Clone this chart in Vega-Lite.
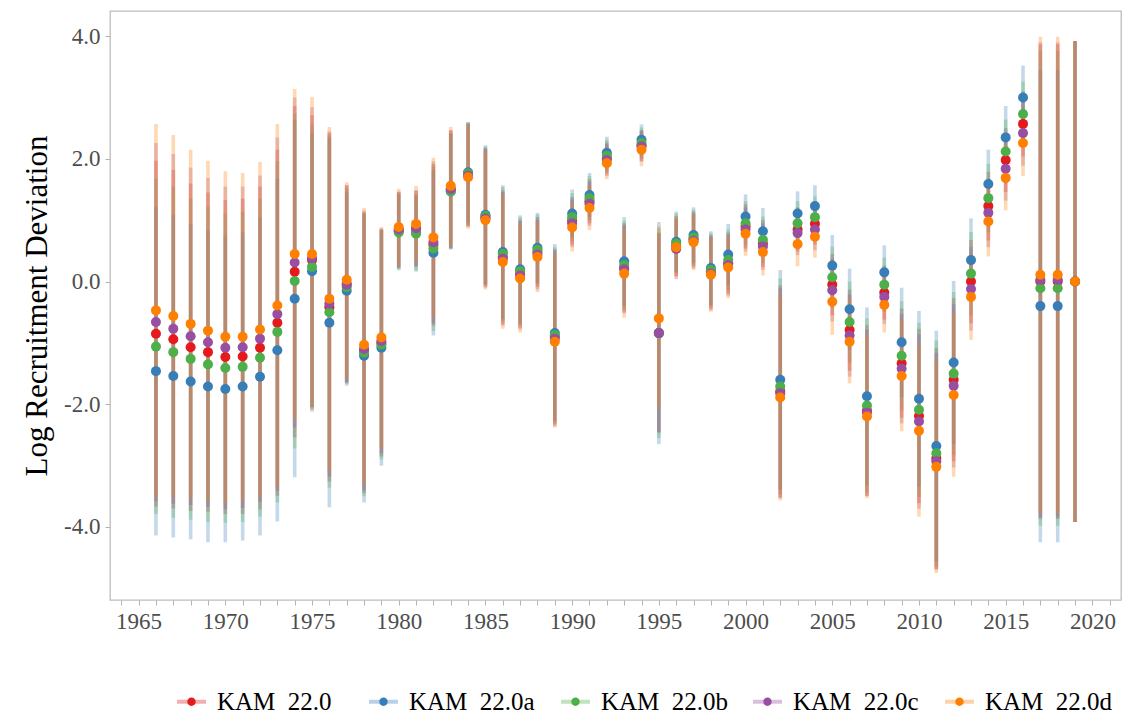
{
"$schema": "https://vega.github.io/schema/vega-lite/v6.json",
"width": 1011, "height": 589,
"autosize": {"type": "none"},
"padding": {"left": 110, "top": 11, "right": 1, "bottom": 115},
"background": "white",
"config": {"view": {"stroke": "#BDBDBD", "strokeWidth": 1.3}, "font": "Liberation Serif"},
"data": {"values": [
{"year":1966,"model":"22.0","est":-0.85,"lo":-3.67,"hi":1.97},{"year":1966,"model":"22.0a","est":-1.46,"lo":-4.14,"hi":1.22},{"year":1966,"model":"22.0b","est":-1.06,"lo":-3.79,"hi":1.67},{"year":1966,"model":"22.0c","est":-0.66,"lo":-3.58,"hi":2.26},{"year":1966,"model":"22.0d","est":-0.47,"lo":-3.51,"hi":2.57},
{"year":1967,"model":"22.0","est":-0.94,"lo":-3.70,"hi":1.82},{"year":1967,"model":"22.0a","est":-1.54,"lo":-4.17,"hi":1.09},{"year":1967,"model":"22.0b","est":-1.15,"lo":-3.85,"hi":1.55},{"year":1967,"model":"22.0c","est":-0.77,"lo":-3.62,"hi":2.08},{"year":1967,"model":"22.0d","est":-0.56,"lo":-3.51,"hi":2.39},
{"year":1968,"model":"22.0","est":-1.07,"lo":-3.74,"hi":1.60},{"year":1968,"model":"22.0a","est":-1.63,"lo":-4.20,"hi":0.94},{"year":1968,"model":"22.0b","est":-1.26,"lo":-3.88,"hi":1.36},{"year":1968,"model":"22.0c","est":-0.89,"lo":-3.64,"hi":1.86},{"year":1968,"model":"22.0d","est":-0.69,"lo":-3.53,"hi":2.15},
{"year":1969,"model":"22.0","est":-1.15,"lo":-3.75,"hi":1.45},{"year":1969,"model":"22.0a","est":-1.71,"lo":-4.25,"hi":0.83},{"year":1969,"model":"22.0b","est":-1.35,"lo":-3.92,"hi":1.22},{"year":1969,"model":"22.0c","est":-0.99,"lo":-3.67,"hi":1.69},{"year":1969,"model":"22.0d","est":-0.80,"lo":-3.57,"hi":1.97},
{"year":1970,"model":"22.0","est":-1.23,"lo":-3.79,"hi":1.33},{"year":1970,"model":"22.0a","est":-1.75,"lo":-4.25,"hi":0.75},{"year":1970,"model":"22.0b","est":-1.41,"lo":-3.93,"hi":1.11},{"year":1970,"model":"22.0c","est":-1.08,"lo":-3.71,"hi":1.55},{"year":1970,"model":"22.0d","est":-0.90,"lo":-3.60,"hi":1.80},
{"year":1971,"model":"22.0","est":-1.22,"lo":-3.79,"hi":1.35},{"year":1971,"model":"22.0a","est":-1.71,"lo":-4.22,"hi":0.80},{"year":1971,"model":"22.0b","est":-1.39,"lo":-3.92,"hi":1.14},{"year":1971,"model":"22.0c","est":-1.07,"lo":-3.69,"hi":1.55},{"year":1971,"model":"22.0d","est":-0.90,"lo":-3.57,"hi":1.77},
{"year":1972,"model":"22.0","est":-1.08,"lo":-3.71,"hi":1.55},{"year":1972,"model":"22.0a","est":-1.55,"lo":-4.14,"hi":1.04},{"year":1972,"model":"22.0b","est":-1.24,"lo":-3.83,"hi":1.35},{"year":1972,"model":"22.0c","est":-0.93,"lo":-3.59,"hi":1.73},{"year":1972,"model":"22.0d","est":-0.78,"lo":-3.51,"hi":1.95},
{"year":1973,"model":"22.0","est":-0.67,"lo":-3.49,"hi":2.15},{"year":1973,"model":"22.0a","est":-1.12,"lo":-3.91,"hi":1.67},{"year":1973,"model":"22.0b","est":-0.82,"lo":-3.60,"hi":1.96},{"year":1973,"model":"22.0c","est":-0.53,"lo":-3.41,"hi":2.35},{"year":1973,"model":"22.0d","est":-0.39,"lo":-3.35,"hi":2.57},
{"year":1974,"model":"22.0","est":0.16,"lo":-2.54,"hi":2.86},{"year":1974,"model":"22.0a","est":-0.28,"lo":-3.19,"hi":2.63},{"year":1974,"model":"22.0b","est":0.01,"lo":-2.72,"hi":2.74},{"year":1974,"model":"22.0c","est":0.31,"lo":-2.38,"hi":3.00},{"year":1974,"model":"22.0d","est":0.45,"lo":-2.24,"hi":3.14},
{"year":1975,"model":"22.0","est":0.35,"lo":-2.05,"hi":2.71},{"year":1975,"model":"22.0a","est":0.17,"lo":-2.12,"hi":2.42},{"year":1975,"model":"22.0b","est":0.24,"lo":-2.08,"hi":2.56},{"year":1975,"model":"22.0c","est":0.38,"lo":-2.05,"hi":2.84},{"year":1975,"model":"22.0d","est":0.45,"lo":-2.09,"hi":3.01},
{"year":1976,"model":"22.0","est":-0.42,"lo":-3.26,"hi":2.42},{"year":1976,"model":"22.0a","est":-0.67,"lo":-3.68,"hi":2.34},{"year":1976,"model":"22.0b","est":-0.50,"lo":-3.36,"hi":2.38},{"year":1976,"model":"22.0c","est":-0.36,"lo":-3.18,"hi":2.45},{"year":1976,"model":"22.0d","est":-0.28,"lo":-3.08,"hi":2.52},
{"year":1977,"model":"22.0","est":-0.04,"lo":-1.64,"hi":1.57},{"year":1977,"model":"22.0a","est":-0.15,"lo":-1.70,"hi":1.45},{"year":1977,"model":"22.0b","est":-0.09,"lo":-1.67,"hi":1.52},{"year":1977,"model":"22.0c","est":-0.05,"lo":-1.65,"hi":1.57},{"year":1977,"model":"22.0d","est":0.03,"lo":-1.58,"hi":1.62},
{"year":1978,"model":"22.0","est":-1.13,"lo":-3.45,"hi":1.13},{"year":1978,"model":"22.0a","est":-1.21,"lo":-3.60,"hi":1.10},{"year":1978,"model":"22.0b","est":-1.16,"lo":-3.50,"hi":1.12},{"year":1978,"model":"22.0c","est":-1.10,"lo":-3.40,"hi":1.16},{"year":1978,"model":"22.0d","est":-1.03,"lo":-3.28,"hi":1.20},
{"year":1979,"model":"22.0","est":-1.00,"lo":-2.85,"hi":0.85},{"year":1979,"model":"22.0a","est":-1.08,"lo":-3.00,"hi":0.84},{"year":1979,"model":"22.0b","est":-1.03,"lo":-2.90,"hi":0.85},{"year":1979,"model":"22.0c","est":-0.97,"lo":-2.80,"hi":0.87},{"year":1979,"model":"22.0d","est":-0.91,"lo":-2.71,"hi":0.89},
{"year":1980,"model":"22.0","est":0.84,"lo":0.22,"hi":1.46},{"year":1980,"model":"22.0a","est":0.82,"lo":0.20,"hi":1.44},{"year":1980,"model":"22.0b","est":0.80,"lo":0.18,"hi":1.42},{"year":1980,"model":"22.0c","est":0.85,"lo":0.23,"hi":1.47},{"year":1980,"model":"22.0d","est":0.89,"lo":0.27,"hi":1.51},
{"year":1981,"model":"22.0","est":0.86,"lo":0.24,"hi":1.48},{"year":1981,"model":"22.0a","est":0.80,"lo":0.18,"hi":1.42},{"year":1981,"model":"22.0b","est":0.78,"lo":0.16,"hi":1.40},{"year":1981,"model":"22.0c","est":0.87,"lo":0.25,"hi":1.49},{"year":1981,"model":"22.0d","est":0.94,"lo":0.32,"hi":1.56},
{"year":1982,"model":"22.0","est":0.60,"lo":-0.72,"hi":1.92},{"year":1982,"model":"22.0a","est":0.47,"lo":-0.88,"hi":1.82},{"year":1982,"model":"22.0b","est":0.54,"lo":-0.80,"hi":1.88},{"year":1982,"model":"22.0c","est":0.64,"lo":-0.68,"hi":1.96},{"year":1982,"model":"22.0d","est":0.72,"lo":-0.58,"hi":2.02},
{"year":1983,"model":"22.0","est":1.50,"lo":0.54,"hi":2.46},{"year":1983,"model":"22.0a","est":1.47,"lo":0.53,"hi":2.41},{"year":1983,"model":"22.0b","est":1.47,"lo":0.52,"hi":2.42},{"year":1983,"model":"22.0c","est":1.51,"lo":0.55,"hi":2.47},{"year":1983,"model":"22.0d","est":1.56,"lo":0.60,"hi":2.52},
{"year":1984,"model":"22.0","est":1.74,"lo":0.90,"hi":2.58},{"year":1984,"model":"22.0a","est":1.78,"lo":0.95,"hi":2.60},{"year":1984,"model":"22.0b","est":1.76,"lo":0.92,"hi":2.60},{"year":1984,"model":"22.0c","est":1.73,"lo":0.89,"hi":2.57},{"year":1984,"model":"22.0d","est":1.70,"lo":0.86,"hi":2.54},
{"year":1985,"model":"22.0","est":1.05,"lo":-0.08,"hi":2.18},{"year":1985,"model":"22.0a","est":1.09,"lo":-0.04,"hi":2.22},{"year":1985,"model":"22.0b","est":1.07,"lo":-0.06,"hi":2.20},{"year":1985,"model":"22.0c","est":1.03,"lo":-0.10,"hi":2.16},{"year":1985,"model":"22.0d","est":1.00,"lo":-0.13,"hi":2.13},
{"year":1986,"model":"22.0","est":0.40,"lo":-0.69,"hi":1.49},{"year":1986,"model":"22.0a","est":0.48,"lo":-0.61,"hi":1.57},{"year":1986,"model":"22.0b","est":0.45,"lo":-0.64,"hi":1.54},{"year":1986,"model":"22.0c","est":0.37,"lo":-0.72,"hi":1.46},{"year":1986,"model":"22.0d","est":0.32,"lo":-0.77,"hi":1.41},
{"year":1987,"model":"22.0","est":0.13,"lo":-0.75,"hi":1.01},{"year":1987,"model":"22.0a","est":0.20,"lo":-0.68,"hi":1.08},{"year":1987,"model":"22.0b","est":0.17,"lo":-0.71,"hi":1.05},{"year":1987,"model":"22.0c","est":0.10,"lo":-0.78,"hi":0.98},{"year":1987,"model":"22.0d","est":0.05,"lo":-0.83,"hi":0.93},
{"year":1988,"model":"22.0","est":0.48,"lo":-0.09,"hi":1.05},{"year":1988,"model":"22.0a","est":0.55,"lo":-0.02,"hi":1.12},{"year":1988,"model":"22.0b","est":0.52,"lo":-0.05,"hi":1.09},{"year":1988,"model":"22.0c","est":0.44,"lo":-0.13,"hi":1.01},{"year":1988,"model":"22.0d","est":0.40,"lo":-0.17,"hi":0.97},
{"year":1989,"model":"22.0","est":-0.90,"lo":-2.33,"hi":0.53},{"year":1989,"model":"22.0a","est":-0.84,"lo":-2.27,"hi":0.61},{"year":1989,"model":"22.0b","est":-0.87,"lo":-2.30,"hi":0.56},{"year":1989,"model":"22.0c","est":-0.93,"lo":-2.36,"hi":0.50},{"year":1989,"model":"22.0d","est":-0.98,"lo":-2.38,"hi":0.45},
{"year":1990,"model":"22.0","est":0.99,"lo":0.60,"hi":1.38},{"year":1990,"model":"22.0a","est":1.11,"lo":0.72,"hi":1.50},{"year":1990,"model":"22.0b","est":1.05,"lo":0.66,"hi":1.44},{"year":1990,"model":"22.0c","est":0.95,"lo":0.56,"hi":1.34},{"year":1990,"model":"22.0d","est":0.88,"lo":0.49,"hi":1.27},
{"year":1991,"model":"22.0","est":1.31,"lo":0.95,"hi":1.67},{"year":1991,"model":"22.0a","est":1.41,"lo":1.05,"hi":1.77},{"year":1991,"model":"22.0b","est":1.36,"lo":1.00,"hi":1.72},{"year":1991,"model":"22.0c","est":1.27,"lo":0.91,"hi":1.63},{"year":1991,"model":"22.0d","est":1.20,"lo":0.84,"hi":1.56},
{"year":1992,"model":"22.0","est":2.01,"lo":1.75,"hi":2.27},{"year":1992,"model":"22.0a","est":2.10,"lo":1.84,"hi":2.36},{"year":1992,"model":"22.0b","est":2.05,"lo":1.79,"hi":2.31},{"year":1992,"model":"22.0c","est":1.98,"lo":1.72,"hi":2.24},{"year":1992,"model":"22.0d","est":1.93,"lo":1.67,"hi":2.19},
{"year":1993,"model":"22.0","est":0.23,"lo":-0.49,"hi":0.95},{"year":1993,"model":"22.0a","est":0.33,"lo":-0.39,"hi":1.05},{"year":1993,"model":"22.0b","est":0.27,"lo":-0.45,"hi":0.99},{"year":1993,"model":"22.0c","est":0.20,"lo":-0.52,"hi":0.92},{"year":1993,"model":"22.0d","est":0.13,"lo":-0.59,"hi":0.85},
{"year":1994,"model":"22.0","est":2.22,"lo":1.97,"hi":2.47},{"year":1994,"model":"22.0a","est":2.31,"lo":2.06,"hi":2.56},{"year":1994,"model":"22.0b","est":2.26,"lo":2.01,"hi":2.51},{"year":1994,"model":"22.0c","est":2.20,"lo":1.95,"hi":2.45},{"year":1994,"model":"22.0d","est":2.15,"lo":1.88,"hi":2.40},
{"year":1995,"model":"22.0","est":-0.84,"lo":-2.45,"hi":0.78},{"year":1995,"model":"22.0a","est":-0.84,"lo":-2.65,"hi":0.97},{"year":1995,"model":"22.0b","est":-0.84,"lo":-2.55,"hi":0.87},{"year":1995,"model":"22.0c","est":-0.84,"lo":-2.47,"hi":0.80},{"year":1995,"model":"22.0d","est":-0.60,"lo":-2.05,"hi":0.90},
{"year":1996,"model":"22.0","est":0.58,"lo":0.09,"hi":1.07},{"year":1996,"model":"22.0a","est":0.65,"lo":0.16,"hi":1.14},{"year":1996,"model":"22.0b","est":0.62,"lo":0.13,"hi":1.11},{"year":1996,"model":"22.0c","est":0.53,"lo":0.04,"hi":1.02},{"year":1996,"model":"22.0d","est":0.56,"lo":0.07,"hi":1.05},
{"year":1997,"model":"22.0","est":0.69,"lo":0.24,"hi":1.14},{"year":1997,"model":"22.0a","est":0.76,"lo":0.31,"hi":1.21},{"year":1997,"model":"22.0b","est":0.72,"lo":0.27,"hi":1.17},{"year":1997,"model":"22.0c","est":0.66,"lo":0.21,"hi":1.11},{"year":1997,"model":"22.0d","est":0.64,"lo":0.19,"hi":1.09},
{"year":1998,"model":"22.0","est":0.16,"lo":-0.44,"hi":0.76},{"year":1998,"model":"22.0a","est":0.22,"lo":-0.38,"hi":0.82},{"year":1998,"model":"22.0b","est":0.19,"lo":-0.41,"hi":0.79},{"year":1998,"model":"22.0c","est":0.13,"lo":-0.47,"hi":0.73},{"year":1998,"model":"22.0d","est":0.11,"lo":-0.49,"hi":0.71},
{"year":1999,"model":"22.0","est":0.30,"lo":-0.20,"hi":0.80},{"year":1999,"model":"22.0a","est":0.44,"lo":-0.06,"hi":0.94},{"year":1999,"model":"22.0b","est":0.35,"lo":-0.15,"hi":0.85},{"year":1999,"model":"22.0c","est":0.27,"lo":-0.23,"hi":0.77},{"year":1999,"model":"22.0d","est":0.23,"lo":-0.27,"hi":0.73},
{"year":2000,"model":"22.0","est":0.90,"lo":0.54,"hi":1.26},{"year":2000,"model":"22.0a","est":1.06,"lo":0.70,"hi":1.42},{"year":2000,"model":"22.0b","est":0.95,"lo":0.59,"hi":1.31},{"year":2000,"model":"22.0c","est":0.85,"lo":0.49,"hi":1.21},{"year":2000,"model":"22.0d","est":0.78,"lo":0.42,"hi":1.14},
{"year":2001,"model":"22.0","est":0.62,"lo":0.24,"hi":1.00},{"year":2001,"model":"22.0a","est":0.82,"lo":0.44,"hi":1.20},{"year":2001,"model":"22.0b","est":0.68,"lo":0.30,"hi":1.06},{"year":2001,"model":"22.0c","est":0.57,"lo":0.19,"hi":0.95},{"year":2001,"model":"22.0d","est":0.48,"lo":0.10,"hi":0.86},
{"year":2002,"model":"22.0","est":-1.79,"lo":-3.52,"hi":-0.06},{"year":2002,"model":"22.0a","est":-1.60,"lo":-3.39,"hi":0.19},{"year":2002,"model":"22.0b","est":-1.71,"lo":-3.47,"hi":0.05},{"year":2002,"model":"22.0c","est":-1.82,"lo":-3.53,"hi":-0.11},{"year":2002,"model":"22.0d","est":-1.89,"lo":-3.57,"hi":-0.21},
{"year":2003,"model":"22.0","est":0.85,"lo":0.49,"hi":1.21},{"year":2003,"model":"22.0a","est":1.11,"lo":0.75,"hi":1.47},{"year":2003,"model":"22.0b","est":0.95,"lo":0.59,"hi":1.31},{"year":2003,"model":"22.0c","est":0.79,"lo":0.43,"hi":1.15},{"year":2003,"model":"22.0d","est":0.61,"lo":0.25,"hi":0.97},
{"year":2004,"model":"22.0","est":0.94,"lo":0.60,"hi":1.28},{"year":2004,"model":"22.0a","est":1.23,"lo":0.89,"hi":1.57},{"year":2004,"model":"22.0b","est":1.05,"lo":0.71,"hi":1.39},{"year":2004,"model":"22.0c","est":0.85,"lo":0.51,"hi":1.19},{"year":2004,"model":"22.0d","est":0.73,"lo":0.39,"hi":1.07},
{"year":2005,"model":"22.0","est":-0.05,"lo":-0.55,"hi":0.45},{"year":2005,"model":"22.0a","est":0.26,"lo":-0.24,"hi":0.76},{"year":2005,"model":"22.0b","est":0.07,"lo":-0.43,"hi":0.57},{"year":2005,"model":"22.0c","est":-0.14,"lo":-0.65,"hi":0.37},{"year":2005,"model":"22.0d","est":-0.33,"lo":-0.87,"hi":0.21},
{"year":2006,"model":"22.0","est":-0.79,"lo":-1.45,"hi":-0.13},{"year":2006,"model":"22.0a","est":-0.45,"lo":-1.11,"hi":0.21},{"year":2006,"model":"22.0b","est":-0.66,"lo":-1.32,"hi":0.00},{"year":2006,"model":"22.0c","est":-0.88,"lo":-1.55,"hi":-0.21},{"year":2006,"model":"22.0d","est":-0.98,"lo":-1.66,"hi":-0.30},
{"year":2007,"model":"22.0","est":-2.10,"lo":-3.49,"hi":-0.71},{"year":2007,"model":"22.0a","est":-1.87,"lo":-3.32,"hi":-0.42},{"year":2007,"model":"22.0b","est":-2.02,"lo":-3.44,"hi":-0.60},{"year":2007,"model":"22.0c","est":-2.14,"lo":-3.50,"hi":-0.78},{"year":2007,"model":"22.0d","est":-2.20,"lo":-3.53,"hi":-0.87},
{"year":2008,"model":"22.0","est":-0.18,"lo":-0.62,"hi":0.26},{"year":2008,"model":"22.0a","est":0.15,"lo":-0.29,"hi":0.59},{"year":2008,"model":"22.0b","est":-0.05,"lo":-0.49,"hi":0.39},{"year":2008,"model":"22.0c","est":-0.25,"lo":-0.69,"hi":0.19},{"year":2008,"model":"22.0d","est":-0.38,"lo":-0.83,"hi":0.07},
{"year":2009,"model":"22.0","est":-1.33,"lo":-2.22,"hi":-0.44},{"year":2009,"model":"22.0a","est":-0.99,"lo":-1.88,"hi":-0.10},{"year":2009,"model":"22.0b","est":-1.21,"lo":-2.10,"hi":-0.32},{"year":2009,"model":"22.0c","est":-1.42,"lo":-2.31,"hi":-0.53},{"year":2009,"model":"22.0d","est":-1.54,"lo":-2.44,"hi":-0.64},
{"year":2010,"model":"22.0","est":-2.19,"lo":-3.61,"hi":-0.77},{"year":2010,"model":"22.0a","est":-1.91,"lo":-3.34,"hi":-0.48},{"year":2010,"model":"22.0b","est":-2.09,"lo":-3.51,"hi":-0.67},{"year":2010,"model":"22.0c","est":-2.28,"lo":-3.70,"hi":-0.86},{"year":2010,"model":"22.0d","est":-2.43,"lo":-3.83,"hi":-1.03},
{"year":2011,"model":"22.0","est":-2.88,"lo":-4.68,"hi":-1.08},{"year":2011,"model":"22.0a","est":-2.68,"lo":-4.56,"hi":-0.80},{"year":2011,"model":"22.0b","est":-2.80,"lo":-4.64,"hi":-0.96},{"year":2011,"model":"22.0c","est":-2.93,"lo":-4.70,"hi":-1.16},{"year":2011,"model":"22.0d","est":-3.02,"lo":-4.75,"hi":-1.29},
{"year":2012,"model":"22.0","est":-1.60,"lo":-2.93,"hi":-0.27},{"year":2012,"model":"22.0a","est":-1.32,"lo":-2.65,"hi":0.01},{"year":2012,"model":"22.0b","est":-1.50,"lo":-2.83,"hi":-0.17},{"year":2012,"model":"22.0c","est":-1.70,"lo":-3.03,"hi":-0.37},{"year":2012,"model":"22.0d","est":-1.85,"lo":-3.18,"hi":-0.52},
{"year":2013,"model":"22.0","est":0.00,"lo":-0.68,"hi":0.68},{"year":2013,"model":"22.0a","est":0.35,"lo":-0.33,"hi":1.03},{"year":2013,"model":"22.0b","est":0.13,"lo":-0.55,"hi":0.81},{"year":2013,"model":"22.0c","est":-0.12,"lo":-0.80,"hi":0.56},{"year":2013,"model":"22.0d","est":-0.25,"lo":-0.95,"hi":0.45},
{"year":2014,"model":"22.0","est":1.23,"lo":0.67,"hi":1.79},{"year":2014,"model":"22.0a","est":1.59,"lo":1.03,"hi":2.15},{"year":2014,"model":"22.0b","est":1.36,"lo":0.80,"hi":1.92},{"year":2014,"model":"22.0c","est":1.12,"lo":0.56,"hi":1.68},{"year":2014,"model":"22.0d","est":0.98,"lo":0.41,"hi":1.55},
{"year":2015,"model":"22.0","est":1.98,"lo":1.46,"hi":2.50},{"year":2015,"model":"22.0a","est":2.35,"lo":1.84,"hi":2.86},{"year":2015,"model":"22.0b","est":2.12,"lo":1.60,"hi":2.64},{"year":2015,"model":"22.0c","est":1.84,"lo":1.32,"hi":2.36},{"year":2015,"model":"22.0d","est":1.69,"lo":1.16,"hi":2.22},
{"year":2016,"model":"22.0","est":2.57,"lo":2.04,"hi":3.10},{"year":2016,"model":"22.0a","est":3.00,"lo":2.48,"hi":3.52},{"year":2016,"model":"22.0b","est":2.73,"lo":2.20,"hi":3.26},{"year":2016,"model":"22.0c","est":2.42,"lo":1.89,"hi":2.95},{"year":2016,"model":"22.0d","est":2.26,"lo":1.72,"hi":2.80},
{"year":2017,"model":"22.0","est":0.00,"lo":-3.87,"hi":3.87},{"year":2017,"model":"22.0a","est":-0.40,"lo":-4.25,"hi":3.45},{"year":2017,"model":"22.0b","est":-0.11,"lo":-3.98,"hi":3.76},{"year":2017,"model":"22.0c","est":0.03,"lo":-3.84,"hi":3.90},{"year":2017,"model":"22.0d","est":0.11,"lo":-3.77,"hi":3.99},
{"year":2018,"model":"22.0","est":0.00,"lo":-3.87,"hi":3.87},{"year":2018,"model":"22.0a","est":-0.40,"lo":-4.25,"hi":3.45},{"year":2018,"model":"22.0b","est":-0.11,"lo":-3.98,"hi":3.76},{"year":2018,"model":"22.0c","est":0.03,"lo":-3.84,"hi":3.90},{"year":2018,"model":"22.0d","est":0.11,"lo":-3.77,"hi":3.99},
{"year":2019,"model":"22.0","est":0.00,"lo":-3.92,"hi":3.92},{"year":2019,"model":"22.0a","est":0.00,"lo":-3.92,"hi":3.92},{"year":2019,"model":"22.0b","est":0.00,"lo":-3.92,"hi":3.92},{"year":2019,"model":"22.0c","est":0.00,"lo":-3.92,"hi":3.92},{"year":2019,"model":"22.0d","est":0.00,"lo":-3.92,"hi":3.92}
]},
"encoding": {
  "x": {"field": "year", "type": "quantitative",
    "scale": {"domain": [1963.35, 2021.65], "nice": false, "zero": false},
    "axis": {"values": [1964,1965,1966,1967,1968,1969,1970,1971,1972,1973,1974,1975,1976,1977,1978,1979,1980,1981,1982,1983,1984,1985,1986,1987,1988,1989,1990,1991,1992,1993,1994,1995,1996,1997,1998,1999,2000,2001,2002,2003,2004,2005,2006,2007,2008,2009,2010,2011,2012,2013,2014,2015,2016,2017,2018,2019,2020,2021],
      "format": "d", "labelExpr": "datum.value % 5 === 0 ? datum.label : ''",
      "title": null, "grid": false, "domain": false, "tickSize": 5, "tickColor": "#B3B3B3", "tickWidth": 1,
      "labelFont": "Liberation Serif", "labelFontSize": 23, "labelColor": "#4D4D4D", "labelPadding": 5, "labelFlush": false, "labelOverlap": false}}
},
"layer": [
  {"mark": {"type": "rule", "strokeWidth": 3.6, "opacity": 0.3},
   "encoding": {
     "y": {"field": "lo", "type": "quantitative",
       "scale": {"domain": [-5.19, 4.41], "nice": false, "zero": false},
       "axis": {"values": [-4, -2, 0, 2, 4], "labelExpr": "(datum.value < 0 ? '-' : '') + format(abs(datum.value), '.1f')",
         "title": "Log Recruitment Deviation", "titleFont": "Liberation Serif", "titleFontSize": 31, "titleFontWeight": "normal", "titleColor": "black", "titlePadding": 10,
         "grid": false, "domain": false, "tickSize": 5, "tickColor": "#B3B3B3", "tickWidth": 1,
         "labelFont": "Liberation Serif", "labelFontSize": 23, "labelColor": "#4D4D4D", "labelPadding": 5}},
     "y2": {"field": "hi"},
     "stroke": {"field": "model", "type": "nominal",
       "scale": {"range": ["#E41A1C", "#377EB8", "#4DAF4A", "#984EA3", "#FF7F00"]},
       "legend": {"orient": "none", "legendX": 65, "legendY": 674, "direction": "horizontal", "title": null,
         "columns": 5, "gridAlign": "all",
         "symbolType": "M-1,0L1,0", "symbolSize": 841, "symbolStrokeWidth": 4, "symbolOpacity": 0.35, "symbolOffset": 0, "symbolFillColor": "transparent",
         "labelOpacity": 0, "labelFont": "Liberation Serif", "labelFontSize": 25, "labelOffset": 9, "labelExpr": "'KAM\u00a0 ' + datum.label",
         "columnPadding": 16, "padding": 0}}
   }},
  {"mark": {"type": "rule", "stroke": "#595959", "strokeWidth": 2.4, "strokeDash": [10, 10]},
   "encoding": {"y": {"datum": 0}}},
  {"mark": {"type": "point", "filled": true, "opacity": 1, "size": 100, "shape": "circle", "strokeWidth": 0},
   "encoding": {
     "y": {"field": "est", "type": "quantitative"},
     "fill": {"field": "model", "type": "nominal",
       "scale": {"domain": ["22.0", "22.0a", "22.0b", "22.0c", "22.0d"], "range": ["#E41A1C", "#377EB8", "#4DAF4A", "#984EA3", "#FF7F00"]},
       "legend": {"orient": "none", "legendX": 65, "legendY": 674, "direction": "horizontal", "title": null,
         "columns": 5, "gridAlign": "all",
         "symbolType": "M-1,0L1,0M-0.29,0A0.29,0.29 0 1,1 0.29,0A0.29,0.29 0 1,1 -0.29,0Z", "symbolSize": 841, "symbolStrokeWidth": 4, "symbolStrokeColor": "transparent", "symbolOpacity": 1, "symbolOffset": 0,
         "labelColor": "black", "labelFont": "Liberation Serif", "labelFontSize": 25, "labelOffset": 9, "labelExpr": "'KAM\u00a0 ' + datum.label",
         "columnPadding": 16, "padding": 0}}
   }}
]
}
